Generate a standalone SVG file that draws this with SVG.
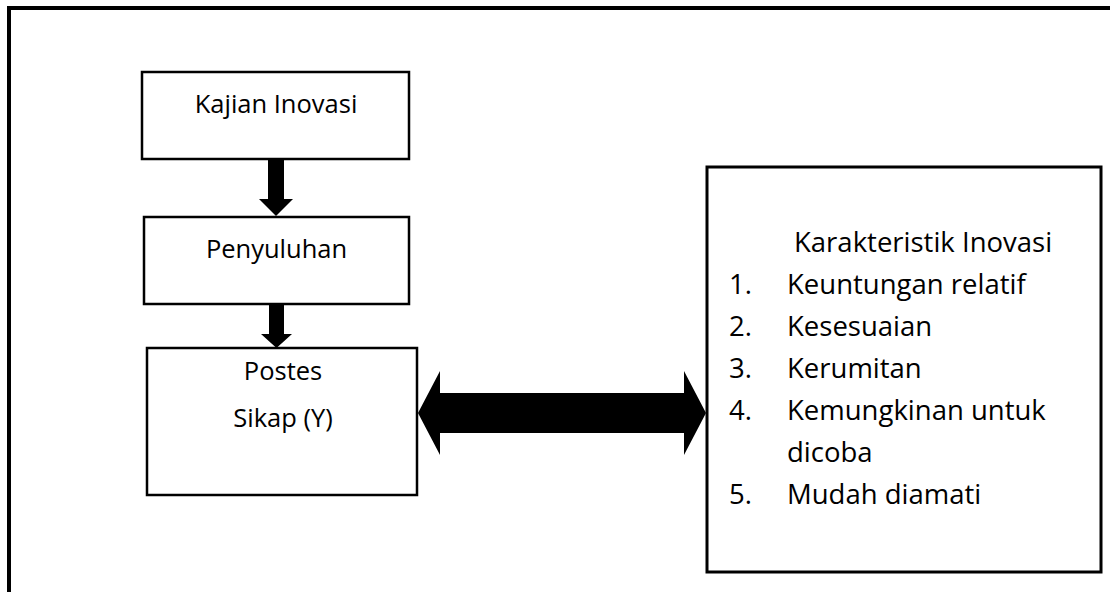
<svg xmlns="http://www.w3.org/2000/svg" width="1110" height="592" viewBox="0 0 1110 592">
<style>
.box{fill:#fff;stroke:#000;stroke-width:2.5}
.frame{fill:none;stroke:#000;stroke-width:4}
.t{font-family:"Open Sans","Noto Sans",sans-serif;fill:#000}
.l{font-size:25.5px}
.r{font-size:27.5px}
.arr{fill:#000;stroke:none}
</style>
<rect class="frame" x="9" y="8" width="1130" height="620"/>
<g id="kajian">
<rect class="box" x="142" y="72" width="267" height="87"/>
<text class="t l" x="276" y="113" text-anchor="middle">Kajian Inovasi</text>
</g>
<g id="penyuluhan">
<rect class="box" x="144" y="217" width="265" height="87"/>
<text class="t l" x="276.5" y="258" text-anchor="middle">Penyuluhan</text>
</g>
<g id="postes">
<rect class="box" x="147" y="348" width="270" height="147"/>
<text class="t l" x="283" y="380" text-anchor="middle">Postes</text>
<text class="t l" x="283" y="427" text-anchor="middle">Sikap (Y)</text>
</g>
<g id="karakteristik">
<rect class="box" x="707" y="167" width="394" height="405" style="stroke-width:3"/>
<text class="t r" x="794" y="252">Karakteristik Inovasi</text>
<text class="t r" x="729" y="294">1.</text><text class="t r" x="787" y="294">Keuntungan relatif</text>
<text class="t r" x="729" y="336">2.</text><text class="t r" x="787" y="336">Kesesuaian</text>
<text class="t r" x="729" y="378">3.</text><text class="t r" x="787" y="378">Kerumitan</text>
<text class="t r" x="729" y="420">4.</text><text class="t r" x="787" y="420">Kemungkinan untuk</text>
<text class="t r" x="787" y="462">dicoba</text>
<text class="t r" x="729" y="504">5.</text><text class="t r" x="787" y="504">Mudah diamati</text>
</g>
<g id="connectors">
<polygon class="arr" points="268,160 284,160 284,199 293,199 276,216 259,199 268,199"/>
<polygon class="arr" points="269,305 284,305 284,334 292,334 276.5,348 261,334 269,334"/>
<polygon class="arr" points="418,413 440,371 440,393 684,393 684,371 706,413 684,455 684,433 440,433 440,455"/>
</g>
</svg>
